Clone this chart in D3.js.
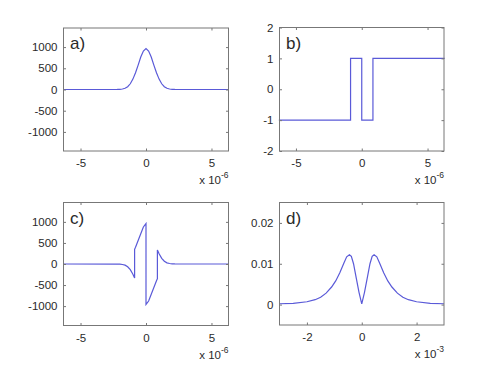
<!DOCTYPE html>
<html><head><meta charset="utf-8">
<script src="https://cdn.jsdelivr.net/npm/d3@7"></script>
<style>
html,body{margin:0;padding:0;background:#fff;}
svg{display:block;}
text{font-family:"Liberation Sans",Arial,sans-serif;fill:#2a2a2a;}
</style></head><body>
<svg id="chart" width="491" height="369"></svg>
<script>
// ---- data ----
const aX = [-6.3,-2.2,-2.0,-1.8,-1.6,-1.4,-1.2,-1.0,-0.8,-0.6,-0.4,-0.2,0,0.2,0.4,0.6,0.8,1.0,1.2,1.4,1.6,1.8,2.0,2.2,6.3];
const aY = [0,1,4,12,28,65,135,245,395,575,765,905,965,905,765,575,395,245,135,65,28,12,4,1,0];

const bX = [-6.3,-0.85,-0.85,0,0,0.85,0.85,6.3];
const bY = [-1,-1,1,1,-1,-1,1,1];

const cX = [-6.3,-2.2,-2.0,-1.8,-1.6,-1.4,-1.2,-1.0,-0.87,-0.87,-0.8,-0.6,-0.4,-0.2,0,0,0.2,0.4,0.6,0.8,0.87,0.87,1.0,1.2,1.4,1.6,1.8,2.0,2.2,6.3];
const cY = [0,-1,-4,-12,-28,-65,-135,-245,-335,350,400,560,720,880,960,-960,-880,-720,-560,-400,-350,335,245,135,65,28,12,4,1,0];

const dX = [-3.0,-2.5,-2.0,-1.7,-1.5,-1.3,-1.1,-0.95,-0.8,-0.65,-0.55,-0.45,-0.38,-0.3,-0.2,-0.1,0,0.1,0.2,0.3,0.38,0.45,0.55,0.65,0.8,0.95,1.1,1.3,1.5,1.7,2.0,2.5,3.0];
const dY = [0.0002,0.0003,0.0007,0.0012,0.0018,0.0028,0.0043,0.0058,0.0078,0.0102,0.0117,0.0122,0.0118,0.0100,0.0065,0.0030,0.0002,0.0030,0.0065,0.0100,0.0118,0.0122,0.0117,0.0102,0.0078,0.0058,0.0043,0.0028,0.0018,0.0012,0.0007,0.0003,0.0002];

const ticksXa = [-5,0,5];
const ticksXd = [-2,0,2];
const ticksYa = [-1000,-500,0,500,1000];
const ticksYb = [-2,-1,0,1,2];
const ticksYd = [0,0.01,0.02];
const labels = ["a)","b)","c)","d)"];
const exponents = ["-6","-6","-6","-3"];

// ---- layout ----
const intFmt = d => String(Math.round(d));           // plain hyphen minus, like the reference
const decFmt = d => d === 0 ? "0" : d.toFixed(2);
const panels = [
  {x:aX,y:aY,xd:[-6.3,6.3],yd:[-1450,1450],xt:ticksXa,yt:ticksYa,box:[63.5,228.5,28,151],lab:labels[0],exp:exponents[0],fmt:intFmt},
  {x:bX,y:bY,xd:[-6.25,6.25],yd:[-2,2],xt:ticksXa,yt:ticksYb,box:[279.5,444,27.5,151],lab:labels[1],exp:exponents[1],fmt:intFmt},
  {x:cX,y:cY,xd:[-6.3,6.3],yd:[-1460,1460],xt:ticksXa,yt:ticksYa,box:[63.5,228.5,202.5,325.5],lab:labels[2],exp:exponents[2],fmt:intFmt},
  {x:dX,y:dY,xd:[-3,3],yd:[-0.005,0.025],xt:ticksXd,yt:ticksYd,box:[279.5,444,202.5,325],lab:labels[3],exp:exponents[3],fmt:decFmt}
];

const svg = d3.select("#chart");
const tickLen = 2.5;
panels.forEach(p=>{
  const [l,r,t,b] = p.box;
  const xs = d3.scaleLinear().domain(p.xd).range([l,r]);
  const ys = d3.scaleLinear().domain(p.yd).range([b,t]);
  const g = svg.append("g");
  // curve
  const pts = p.x.map((v,i)=>[v,p.y[i]]);
  g.append("path").datum(pts)
    .attr("d", d3.line().x(d=>xs(d[0])).y(d=>ys(d[1])))
    .attr("fill","none").attr("stroke","#5a5ad8").attr("stroke-width",1.2);
  // axes (bottom/left with labels, top/right mirrored ticks)
  const axB = g.append("g").attr("transform",`translate(0,${b})`)
    .call(d3.axisBottom(xs).tickValues(p.xt).tickSizeInner(-tickLen).tickSizeOuter(0).tickPadding(8).tickFormat(intFmt));
  const axT = g.append("g").attr("transform",`translate(0,${t})`)
    .call(d3.axisTop(xs).tickValues(p.xt).tickSizeInner(-tickLen).tickSizeOuter(0).tickFormat(""));
  const axL = g.append("g").attr("transform",`translate(${l},0)`)
    .call(d3.axisLeft(ys).tickValues(p.yt).tickSizeInner(-tickLen).tickSizeOuter(0).tickPadding(6).tickFormat(p.fmt));
  const axR = g.append("g").attr("transform",`translate(${r},0)`)
    .call(d3.axisRight(ys).tickValues(p.yt).tickSizeInner(-tickLen).tickSizeOuter(0).tickFormat(""));
  [axB,axT,axL,axR].forEach(a=>{
    a.select(".domain").remove();
    a.selectAll("line").attr("stroke","#777");
    a.selectAll("text").attr("font-size","11.5px").attr("fill","#2a2a2a")
      .style("font-family","'Liberation Sans',Arial,sans-serif");
  });
  // box
  g.append("rect").attr("x",l).attr("y",t).attr("width",r-l).attr("height",b-t)
    .attr("fill","none").attr("stroke","#777").attr("stroke-width",1);
  // panel label
  g.append("text").attr("x",l+6.5).attr("y",t+21).attr("font-size","17px").text(p.lab);
  // exponent
  const ex = g.append("text").attr("x",r).attr("y",b+33).attr("text-anchor","end").attr("font-size","11.5px");
  ex.append("tspan").text("x 10");
  ex.append("tspan").attr("dy",-6).attr("font-size","8.5px").text(p.exp);
});
</script>
</body></html>
